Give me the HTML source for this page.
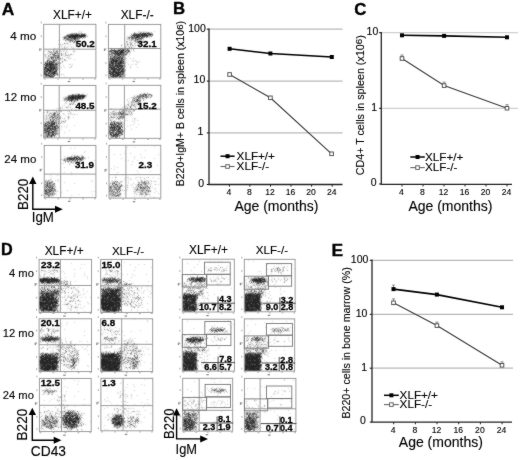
<!DOCTYPE html>
<html><head><meta charset="utf-8"><style>
html,body{margin:0;padding:0;background:#fff;}
svg{display:block;font-family:"Liberation Sans", sans-serif;}
.n{stroke:#000;stroke-width:.3px;}
text{stroke:#000;stroke-width:.12px;}
.L{stroke:#000;stroke-width:.35px;}
</style></head><body>
<svg width="520" height="460" viewBox="0 0 520 460">
<defs><filter id="st" x="0" y="0" width="1" height="1" color-interpolation-filters="sRGB">
<feTurbulence type="fractalNoise" baseFrequency="1.3" numOctaves="1" seed="3" result="n"/>
<feColorMatrix in="n" type="matrix" values="0 0 0 0 0 0 0 0 0 0 0 0 0 0 0 2.2 0 0 0 -0.6" result="na"/>
<feGaussianBlur in="SourceGraphic" stdDeviation="1.2" result="d"/>
<feComposite in="d" in2="na" operator="arithmetic" k1="0" k2="1.5" k3="-1" k4="0.16" result="df"/>
<feComponentTransfer in="df" result="th"><feFuncA type="discrete" tableValues="0 0.22 0.42 0.62 0.82 0.95"/></feComponentTransfer>
<feFlood flood-color="#181818"/>
<feComposite in2="th" operator="in" result="dots"/>
<feConvolveMatrix in="dots" order="3" kernelMatrix="1 2 1 2 16 2 1 2 1" divisor="28" edgeMode="none"/>
</filter><filter id="soft" x="0" y="0" width="520" height="460" filterUnits="userSpaceOnUse" color-interpolation-filters="sRGB"><feConvolveMatrix order="3" kernelMatrix="1 2 1 2 36 2 1 2 1" divisor="48" edgeMode="duplicate"/></filter></defs>
<g filter="url(#soft)">
<rect width="520" height="460" fill="#fff"/>
<text x="1.8" y="14.6" font-size="17.4" font-weight="bold" class="L">A</text>
<text x="53.0" y="18.9" font-size="11.9">XLF+/+</text>
<text x="120.7" y="18.9" font-size="11.9">XLF-/-</text>
<text x="36.3" y="40.4" font-size="11.7" text-anchor="end">4 mo</text>
<text x="36.3" y="100.7" font-size="11.5" text-anchor="end">12 mo</text>
<text x="36.3" y="162.6" font-size="11.5" text-anchor="end">24 mo</text>
<clipPath id="c1"><rect x="43.7" y="24.3" width="52.2" height="53.6"/></clipPath>
<g clip-path="url(#c1)"><g filter="url(#st)">
<rect x="40.7" y="21.3" width="58.2" height="59.6" fill-opacity="0"/>
<ellipse cx="77" cy="35.8" rx="11" ry="2.2" transform="rotate(-2 77 35.8)" fill-opacity="1.0"/>
<ellipse cx="72" cy="37.5" rx="10" ry="3" transform="rotate(-3 72 37.5)" fill-opacity="0.45"/>
<ellipse cx="72" cy="40" rx="12" ry="3.5" transform="rotate(-4 72 40)" fill-opacity="0.15"/>
<rect x="44" y="49.5" width="15.5" height="28" fill-opacity="0.33"/>
<ellipse cx="49" cy="70" rx="8" ry="9" fill-opacity="0.55"/>
<ellipse cx="64" cy="52" rx="19" ry="9" transform="rotate(-40 64 52)" fill-opacity="0.2"/>
<ellipse cx="62" cy="64" rx="13" ry="12" fill-opacity="0.12"/>
</g></g>
<rect x="43.7" y="24.3" width="52.2" height="53.6" fill="none" stroke="#929292" stroke-width=".9"/>
<line x1="59.4" y1="24.3" x2="59.4" y2="77.9" stroke="#929292" stroke-width=".9"/>
<line x1="43.7" y1="49.2" x2="95.9" y2="49.2" stroke="#929292" stroke-width=".9"/>
<rect x="40.7" y="21.6" width="1" height="1.8" fill="#aaa"/>
<rect x="40.7" y="35.3" width="1" height="1.8" fill="#aaa"/>
<rect x="40.7" y="48.2" width="1" height="1.8" fill="#aaa"/>
<rect x="40.7" y="62.1" width="1" height="1.8" fill="#aaa"/>
<rect x="40.7" y="74.4" width="1" height="1.8" fill="#aaa"/>
<rect x="43.9" y="78.5" width="1.8" height="1" fill="#aaa"/>
<rect x="57.0" y="78.5" width="1.8" height="1" fill="#aaa"/>
<rect x="69.0" y="78.5" width="1.8" height="1" fill="#aaa"/>
<rect x="82.1" y="78.5" width="1.8" height="1" fill="#aaa"/>
<rect x="94.1" y="78.5" width="1.8" height="1" fill="#aaa"/>
<rect x="67.7" y="80.9" width="2.5" height="1.2" fill="#888"/>
<rect x="39.2" y="48.4" width="1.3" height="2.5" fill="#888"/>
<text x="94.8" y="47.4" font-size="9.8" text-anchor="end" font-weight="bold" class="n">50.2</text>
<clipPath id="c2"><rect x="108.4" y="24.4" width="52.4" height="53.5"/></clipPath>
<g clip-path="url(#c2)"><g filter="url(#st)">
<rect x="105.4" y="21.4" width="58.4" height="59.5" fill-opacity="0"/>
<ellipse cx="143" cy="34.8" rx="11" ry="2.4" transform="rotate(-2 143 34.8)" fill-opacity="0.85"/>
<ellipse cx="136" cy="37" rx="10" ry="3" transform="rotate(-3 136 37)" fill-opacity="0.4"/>
<ellipse cx="134" cy="40" rx="13" ry="3.5" transform="rotate(-4 134 40)" fill-opacity="0.15"/>
<rect x="108.5" y="49" width="16.5" height="29" fill-opacity="0.5"/>
<ellipse cx="115" cy="68" rx="9" ry="11" fill-opacity="0.5"/>
<ellipse cx="120" cy="51.5" rx="10" ry="2.5" fill-opacity="0.4"/>
<ellipse cx="130" cy="47" rx="15" ry="6" transform="rotate(-30 130 47)" fill-opacity="0.28"/>
<ellipse cx="128" cy="60" rx="12" ry="12" fill-opacity="0.12"/>
</g></g>
<rect x="108.4" y="24.4" width="52.4" height="53.5" fill="none" stroke="#929292" stroke-width=".9"/>
<line x1="124.7" y1="24.4" x2="124.7" y2="77.9" stroke="#929292" stroke-width=".9"/>
<line x1="108.4" y1="48.5" x2="160.8" y2="48.5" stroke="#929292" stroke-width=".9"/>
<rect x="105.4" y="21.7" width="1" height="1.8" fill="#aaa"/>
<rect x="105.4" y="35.4" width="1" height="1.8" fill="#aaa"/>
<rect x="105.4" y="48.2" width="1" height="1.8" fill="#aaa"/>
<rect x="105.4" y="62.1" width="1" height="1.8" fill="#aaa"/>
<rect x="105.4" y="74.4" width="1" height="1.8" fill="#aaa"/>
<rect x="108.6" y="78.5" width="1.8" height="1" fill="#aaa"/>
<rect x="121.7" y="78.5" width="1.8" height="1" fill="#aaa"/>
<rect x="133.8" y="78.5" width="1.8" height="1" fill="#aaa"/>
<rect x="146.9" y="78.5" width="1.8" height="1" fill="#aaa"/>
<rect x="159.0" y="78.5" width="1.8" height="1" fill="#aaa"/>
<rect x="132.5" y="80.9" width="2.5" height="1.2" fill="#888"/>
<rect x="103.9" y="48.5" width="1.3" height="2.5" fill="#888"/>
<text x="156.7" y="47.1" font-size="9.8" text-anchor="end" font-weight="bold" class="n">32.1</text>
<clipPath id="c3"><rect x="43.7" y="85.4" width="52.2" height="52.5"/></clipPath>
<g clip-path="url(#c3)"><g filter="url(#st)">
<rect x="40.7" y="82.4" width="58.2" height="58.5" fill-opacity="0"/>
<ellipse cx="77" cy="96.8" rx="10.5" ry="2.2" transform="rotate(-2 77 96.8)" fill-opacity="1.0"/>
<ellipse cx="72" cy="98.5" rx="10" ry="3" transform="rotate(-3 72 98.5)" fill-opacity="0.45"/>
<ellipse cx="72" cy="101" rx="12" ry="3.5" transform="rotate(-4 72 101)" fill-opacity="0.15"/>
<rect x="44" y="110.5" width="15" height="27" fill-opacity="0.3"/>
<ellipse cx="49" cy="130" rx="8" ry="8" fill-opacity="0.5"/>
<ellipse cx="64" cy="114" rx="19" ry="9" transform="rotate(-40 64 114)" fill-opacity="0.2"/>
<ellipse cx="62" cy="126" rx="13" ry="11" fill-opacity="0.1"/>
</g></g>
<rect x="43.7" y="85.4" width="52.2" height="52.5" fill="none" stroke="#929292" stroke-width=".9"/>
<line x1="59.2" y1="85.4" x2="59.2" y2="137.9" stroke="#929292" stroke-width=".9"/>
<line x1="43.7" y1="110.3" x2="95.9" y2="110.3" stroke="#929292" stroke-width=".9"/>
<rect x="40.7" y="82.8" width="1" height="1.8" fill="#aaa"/>
<rect x="40.7" y="96.2" width="1" height="1.8" fill="#aaa"/>
<rect x="40.7" y="108.8" width="1" height="1.8" fill="#aaa"/>
<rect x="40.7" y="122.4" width="1" height="1.8" fill="#aaa"/>
<rect x="40.7" y="134.5" width="1" height="1.8" fill="#aaa"/>
<rect x="43.9" y="138.5" width="1.8" height="1" fill="#aaa"/>
<rect x="57.0" y="138.5" width="1.8" height="1" fill="#aaa"/>
<rect x="69.0" y="138.5" width="1.8" height="1" fill="#aaa"/>
<rect x="82.1" y="138.5" width="1.8" height="1" fill="#aaa"/>
<rect x="94.1" y="138.5" width="1.8" height="1" fill="#aaa"/>
<rect x="67.7" y="140.9" width="2.5" height="1.2" fill="#888"/>
<rect x="39.2" y="109.0" width="1.3" height="2.5" fill="#888"/>
<text x="94.5" y="109.3" font-size="9.8" text-anchor="end" font-weight="bold" class="n">48.5</text>
<clipPath id="c4"><rect x="108.7" y="85.3" width="52.1" height="53.0"/></clipPath>
<g clip-path="url(#c4)"><g filter="url(#st)">
<rect x="105.7" y="82.3" width="58.1" height="59.0" fill-opacity="0"/>
<ellipse cx="145" cy="95.8" rx="8.5" ry="2.2" transform="rotate(-2 145 95.8)" fill-opacity="0.55"/>
<ellipse cx="139" cy="97.5" rx="9" ry="3" transform="rotate(-3 139 97.5)" fill-opacity="0.3"/>
<ellipse cx="137" cy="100" rx="12" ry="3.5" transform="rotate(-4 137 100)" fill-opacity="0.12"/>
<rect x="109" y="109.5" width="15" height="28.5" fill-opacity="0.32"/>
<ellipse cx="115" cy="130" rx="8" ry="8" fill-opacity="0.5"/>
<ellipse cx="130" cy="108" rx="14" ry="6" transform="rotate(-40 130 108)" fill-opacity="0.35"/>
<ellipse cx="128" cy="122" rx="11" ry="11" fill-opacity="0.1"/>
</g></g>
<rect x="108.7" y="85.3" width="52.1" height="53.0" fill="none" stroke="#929292" stroke-width=".9"/>
<line x1="124.4" y1="85.3" x2="124.4" y2="138.3" stroke="#929292" stroke-width=".9"/>
<line x1="108.7" y1="109.2" x2="160.8" y2="109.2" stroke="#929292" stroke-width=".9"/>
<rect x="105.7" y="82.6" width="1" height="1.8" fill="#aaa"/>
<rect x="105.7" y="96.2" width="1" height="1.8" fill="#aaa"/>
<rect x="105.7" y="108.9" width="1" height="1.8" fill="#aaa"/>
<rect x="105.7" y="122.7" width="1" height="1.8" fill="#aaa"/>
<rect x="105.7" y="134.8" width="1" height="1.8" fill="#aaa"/>
<rect x="108.9" y="138.9" width="1.8" height="1" fill="#aaa"/>
<rect x="122.0" y="138.9" width="1.8" height="1" fill="#aaa"/>
<rect x="133.9" y="138.9" width="1.8" height="1" fill="#aaa"/>
<rect x="147.0" y="138.9" width="1.8" height="1" fill="#aaa"/>
<rect x="159.0" y="138.9" width="1.8" height="1" fill="#aaa"/>
<rect x="132.7" y="141.3" width="2.5" height="1.2" fill="#888"/>
<rect x="104.2" y="109.2" width="1.3" height="2.5" fill="#888"/>
<text x="156.7" y="109.0" font-size="9.8" text-anchor="end" font-weight="bold" class="n">15.2</text>
<clipPath id="c5"><rect x="44.2" y="145.4" width="51.7" height="52.3"/></clipPath>
<g clip-path="url(#c5)"><g filter="url(#st)">
<rect x="41.2" y="142.4" width="57.7" height="58.3" fill-opacity="0"/>
<ellipse cx="75" cy="158.5" rx="11" ry="2.6" transform="rotate(-3 75 158.5)" fill-opacity="0.62"/>
<ellipse cx="72" cy="160.5" rx="13" ry="4" transform="rotate(-3 72 160.5)" fill-opacity="0.25"/>
<rect x="44.5" y="174.5" width="16" height="23" fill-opacity="0.13"/>
<ellipse cx="49" cy="189" rx="7" ry="9" fill-opacity="0.5"/>
<rect x="60" y="146" width="35" height="51" fill-opacity="0.02"/>
</g></g>
<rect x="44.2" y="145.4" width="51.7" height="52.3" fill="none" stroke="#929292" stroke-width=".9"/>
<line x1="60.7" y1="145.4" x2="60.7" y2="197.7" stroke="#929292" stroke-width=".9"/>
<line x1="44.2" y1="174.1" x2="95.9" y2="174.1" stroke="#929292" stroke-width=".9"/>
<rect x="41.2" y="142.8" width="1" height="1.8" fill="#aaa"/>
<rect x="41.2" y="156.1" width="1" height="1.8" fill="#aaa"/>
<rect x="41.2" y="168.7" width="1" height="1.8" fill="#aaa"/>
<rect x="41.2" y="182.3" width="1" height="1.8" fill="#aaa"/>
<rect x="41.2" y="194.3" width="1" height="1.8" fill="#aaa"/>
<rect x="44.4" y="198.3" width="1.8" height="1" fill="#aaa"/>
<rect x="57.4" y="198.3" width="1.8" height="1" fill="#aaa"/>
<rect x="69.3" y="198.3" width="1.8" height="1" fill="#aaa"/>
<rect x="82.2" y="198.3" width="1.8" height="1" fill="#aaa"/>
<rect x="94.1" y="198.3" width="1.8" height="1" fill="#aaa"/>
<rect x="68.0" y="200.7" width="2.5" height="1.2" fill="#888"/>
<rect x="39.7" y="168.9" width="1.3" height="2.5" fill="#888"/>
<text x="94.0" y="167.8" font-size="9.8" text-anchor="end" font-weight="bold" class="n">31.9</text>
<clipPath id="c6"><rect x="109" y="145.3" width="51.8" height="52.8"/></clipPath>
<g clip-path="url(#c6)"><g filter="url(#st)">
<rect x="106" y="142.3" width="57.8" height="58.8" fill-opacity="0"/>
<ellipse cx="115" cy="189" rx="8" ry="9" fill-opacity="0.4"/>
<ellipse cx="143" cy="188" rx="8" ry="8" fill-opacity="0.36"/>
<rect x="109.5" y="175" width="50" height="22.5" fill-opacity="0.13"/>
<rect x="109.5" y="146" width="50" height="28" fill-opacity="0.03"/>
</g></g>
<rect x="109" y="145.3" width="51.8" height="52.8" fill="none" stroke="#929292" stroke-width=".9"/>
<line x1="125.9" y1="145.3" x2="125.9" y2="198.1" stroke="#929292" stroke-width=".9"/>
<line x1="109" y1="174.6" x2="160.8" y2="174.6" stroke="#929292" stroke-width=".9"/>
<rect x="106.0" y="142.7" width="1" height="1.8" fill="#aaa"/>
<rect x="106.0" y="156.1" width="1" height="1.8" fill="#aaa"/>
<rect x="106.0" y="168.8" width="1" height="1.8" fill="#aaa"/>
<rect x="106.0" y="182.5" width="1" height="1.8" fill="#aaa"/>
<rect x="106.0" y="194.7" width="1" height="1.8" fill="#aaa"/>
<rect x="109.2" y="198.7" width="1.8" height="1" fill="#aaa"/>
<rect x="122.2" y="198.7" width="1.8" height="1" fill="#aaa"/>
<rect x="134.1" y="198.7" width="1.8" height="1" fill="#aaa"/>
<rect x="147.1" y="198.7" width="1.8" height="1" fill="#aaa"/>
<rect x="159.0" y="198.7" width="1.8" height="1" fill="#aaa"/>
<rect x="132.8" y="201.1" width="2.5" height="1.2" fill="#888"/>
<rect x="104.5" y="169.1" width="1.3" height="2.5" fill="#888"/>
<text x="152.2" y="168.0" font-size="9.8" text-anchor="end" font-weight="bold" class="n">2.3</text>
<path d="M32.8 182.5 V209.2 H56.8" fill="none" stroke="#000" stroke-width="1.4"/>
<path d="M32.8 176.5 L29.099999999999998 183.9 L36.5 183.9Z" fill="#000"/>
<path d="M62.8 209.2 L55.0 205.7 L55.0 212.7Z" fill="#000"/>
<text x="27.6" y="209.9" font-size="14.4" textLength="31.2" lengthAdjust="spacingAndGlyphs" transform="rotate(-90 27.6 209.9)">B220</text>
<text x="31.7" y="221.6" font-size="14.2" textLength="22.2" lengthAdjust="spacingAndGlyphs">IgM</text>
<text x="0.9" y="255.4" font-size="16.2" font-weight="bold" class="L">D</text>
<text x="44.7" y="255.2" font-size="11.9">XLF+/+</text>
<text x="111.9" y="255.2" font-size="11.6">XLF-/-</text>
<text x="189.0" y="254.3" font-size="11.9">XLF+/+</text>
<text x="255.8" y="254.3" font-size="11.6">XLF-/-</text>
<text x="33.9" y="277.2" font-size="11.2" text-anchor="end">4 mo</text>
<text x="33.9" y="337.4" font-size="11.2" text-anchor="end">12 mo</text>
<text x="33.9" y="398.6" font-size="11.2" text-anchor="end">24 mo</text>
<clipPath id="c7"><rect x="39.1" y="259.4" width="52.5" height="53.0"/></clipPath>
<g clip-path="url(#c7)"><g filter="url(#st)">
<rect x="36.1" y="256.4" width="58.5" height="59.0" fill-opacity="0"/>
<rect x="39" y="259" width="53" height="54" fill-opacity="0.025"/>
<ellipse cx="49" cy="271" rx="10" ry="2" fill-opacity="0.2"/>
<rect x="39.5" y="268" width="21" height="17" fill-opacity="0.15"/>
<ellipse cx="49" cy="280.6" rx="11.5" ry="2.8" fill-opacity="1.0"/>
<ellipse cx="64" cy="283" rx="9" ry="3" fill-opacity="0.3"/>
<rect x="39.5" y="285" width="21" height="8" fill-opacity="0.4"/>
<rect x="39" y="291" width="20" height="21" fill-opacity="0.55"/>
<ellipse cx="47" cy="303" rx="10" ry="9" fill-opacity="0.7"/>
<ellipse cx="70" cy="297" rx="11" ry="14" transform="rotate(-35 70 297)" fill-opacity="0.2"/>
<rect x="60.5" y="286" width="31" height="26" fill-opacity="0.05"/>
</g></g>
<rect x="39.1" y="259.4" width="52.5" height="53.0" fill="none" stroke="#929292" stroke-width=".9"/>
<line x1="60.4" y1="259.4" x2="60.4" y2="312.4" stroke="#929292" stroke-width=".9"/>
<line x1="39.1" y1="285.5" x2="91.6" y2="285.5" stroke="#929292" stroke-width=".9"/>
<rect x="36.1" y="256.7" width="1" height="1.8" fill="#aaa"/>
<rect x="36.1" y="270.3" width="1" height="1.8" fill="#aaa"/>
<rect x="36.1" y="283.0" width="1" height="1.8" fill="#aaa"/>
<rect x="36.1" y="296.8" width="1" height="1.8" fill="#aaa"/>
<rect x="36.1" y="308.9" width="1" height="1.8" fill="#aaa"/>
<rect x="39.4" y="313.0" width="1.8" height="1" fill="#aaa"/>
<rect x="52.5" y="313.0" width="1.8" height="1" fill="#aaa"/>
<rect x="64.5" y="313.0" width="1.8" height="1" fill="#aaa"/>
<rect x="77.7" y="313.0" width="1.8" height="1" fill="#aaa"/>
<rect x="89.7" y="313.0" width="1.8" height="1" fill="#aaa"/>
<rect x="63.2" y="315.4" width="2.5" height="1.2" fill="#888"/>
<rect x="34.6" y="283.2" width="1.3" height="2.5" fill="#888"/>
<text x="41.0" y="267.6" font-size="9.8" font-weight="bold" class="n">23.2</text>
<clipPath id="c8"><rect x="100.7" y="259.4" width="52.0" height="53.0"/></clipPath>
<g clip-path="url(#c8)"><g filter="url(#st)">
<rect x="97.7" y="256.4" width="58.0" height="59.0" fill-opacity="0"/>
<rect x="100" y="259" width="53" height="54" fill-opacity="0.025"/>
<ellipse cx="110" cy="271" rx="9" ry="2" fill-opacity="0.18"/>
<rect x="101" y="268" width="20.5" height="17" fill-opacity="0.15"/>
<ellipse cx="111" cy="280.6" rx="10.5" ry="2.3" fill-opacity="0.78"/>
<ellipse cx="125" cy="283" rx="9" ry="3" fill-opacity="0.28"/>
<rect x="101" y="285" width="20.5" height="6" fill-opacity="0.4"/>
<rect x="100.5" y="289" width="21" height="23" fill-opacity="0.65"/>
<ellipse cx="110" cy="302" rx="11" ry="10" fill-opacity="0.8"/>
<ellipse cx="131" cy="296" rx="11" ry="14" transform="rotate(-30 131 296)" fill-opacity="0.22"/>
<rect x="121.5" y="286" width="31" height="26" fill-opacity="0.06"/>
</g></g>
<rect x="100.7" y="259.4" width="52.0" height="53.0" fill="none" stroke="#929292" stroke-width=".9"/>
<line x1="121.5" y1="259.4" x2="121.5" y2="312.4" stroke="#929292" stroke-width=".9"/>
<line x1="100.7" y1="285.8" x2="152.7" y2="285.8" stroke="#929292" stroke-width=".9"/>
<rect x="97.7" y="256.7" width="1" height="1.8" fill="#aaa"/>
<rect x="97.7" y="270.3" width="1" height="1.8" fill="#aaa"/>
<rect x="97.7" y="283.0" width="1" height="1.8" fill="#aaa"/>
<rect x="97.7" y="296.8" width="1" height="1.8" fill="#aaa"/>
<rect x="97.7" y="308.9" width="1" height="1.8" fill="#aaa"/>
<rect x="100.9" y="313.0" width="1.8" height="1" fill="#aaa"/>
<rect x="113.9" y="313.0" width="1.8" height="1" fill="#aaa"/>
<rect x="125.9" y="313.0" width="1.8" height="1" fill="#aaa"/>
<rect x="138.9" y="313.0" width="1.8" height="1" fill="#aaa"/>
<rect x="150.9" y="313.0" width="1.8" height="1" fill="#aaa"/>
<rect x="124.6" y="315.4" width="2.5" height="1.2" fill="#888"/>
<rect x="96.2" y="283.2" width="1.3" height="2.5" fill="#888"/>
<text x="101.4" y="268.0" font-size="9.8" font-weight="bold" class="n">15.0</text>
<clipPath id="c9"><rect x="39.1" y="318.8" width="52.5" height="52.8"/></clipPath>
<g clip-path="url(#c9)"><g filter="url(#st)">
<rect x="36.1" y="315.8" width="58.5" height="58.8" fill-opacity="0"/>
<rect x="39" y="318" width="53" height="54" fill-opacity="0.025"/>
<ellipse cx="49" cy="330" rx="10" ry="2" fill-opacity="0.25"/>
<rect x="39.5" y="328" width="21" height="16" fill-opacity="0.15"/>
<ellipse cx="50" cy="338.8" rx="10" ry="2.6" fill-opacity="0.8"/>
<rect x="39.5" y="344" width="21" height="8" fill-opacity="0.15"/>
<rect x="39" y="353" width="20" height="19" fill-opacity="0.6"/>
<ellipse cx="48" cy="363" rx="10" ry="8.5" fill-opacity="0.75"/>
<ellipse cx="68" cy="354" rx="11" ry="16" transform="rotate(-25 68 354)" fill-opacity="0.26"/>
<ellipse cx="73.5" cy="363" rx="2.2" ry="7" fill-opacity="0.4"/>
<rect x="60.5" y="345" width="30" height="26" fill-opacity="0.05"/>
</g></g>
<rect x="39.1" y="318.8" width="52.5" height="52.8" fill="none" stroke="#929292" stroke-width=".9"/>
<line x1="60.4" y1="318.8" x2="60.4" y2="371.6" stroke="#929292" stroke-width=".9"/>
<line x1="39.1" y1="344.7" x2="91.6" y2="344.7" stroke="#929292" stroke-width=".9"/>
<rect x="36.1" y="316.2" width="1" height="1.8" fill="#aaa"/>
<rect x="36.1" y="329.6" width="1" height="1.8" fill="#aaa"/>
<rect x="36.1" y="342.3" width="1" height="1.8" fill="#aaa"/>
<rect x="36.1" y="356.0" width="1" height="1.8" fill="#aaa"/>
<rect x="36.1" y="368.2" width="1" height="1.8" fill="#aaa"/>
<rect x="39.4" y="372.2" width="1.8" height="1" fill="#aaa"/>
<rect x="52.5" y="372.2" width="1.8" height="1" fill="#aaa"/>
<rect x="64.5" y="372.2" width="1.8" height="1" fill="#aaa"/>
<rect x="77.7" y="372.2" width="1.8" height="1" fill="#aaa"/>
<rect x="89.7" y="372.2" width="1.8" height="1" fill="#aaa"/>
<rect x="63.2" y="374.6" width="2.5" height="1.2" fill="#888"/>
<rect x="34.6" y="342.6" width="1.3" height="2.5" fill="#888"/>
<text x="40.7" y="326.0" font-size="9.8" font-weight="bold" class="n">20.1</text>
<clipPath id="c10"><rect x="100.7" y="318.8" width="52.0" height="52.8"/></clipPath>
<g clip-path="url(#c10)"><g filter="url(#st)">
<rect x="97.7" y="315.8" width="58.0" height="58.8" fill-opacity="0"/>
<rect x="100" y="318" width="53" height="54" fill-opacity="0.025"/>
<ellipse cx="110" cy="330" rx="9" ry="2" fill-opacity="0.2"/>
<rect x="101" y="328" width="20.5" height="16" fill-opacity="0.14"/>
<ellipse cx="111" cy="339" rx="7" ry="2" fill-opacity="0.38"/>
<rect x="101" y="344" width="20.5" height="9" fill-opacity="0.15"/>
<rect x="100.5" y="353" width="20" height="19" fill-opacity="0.8"/>
<ellipse cx="110" cy="363" rx="11" ry="8.5" fill-opacity="0.8"/>
<ellipse cx="130" cy="355" rx="11" ry="16" transform="rotate(-10 130 355)" fill-opacity="0.28"/>
<ellipse cx="135" cy="363" rx="2.2" ry="7" fill-opacity="0.4"/>
<rect x="121.5" y="345" width="31" height="26" fill-opacity="0.05"/>
</g></g>
<rect x="100.7" y="318.8" width="52.0" height="52.8" fill="none" stroke="#929292" stroke-width=".9"/>
<line x1="121.7" y1="318.8" x2="121.7" y2="371.6" stroke="#929292" stroke-width=".9"/>
<line x1="100.7" y1="344.3" x2="152.7" y2="344.3" stroke="#929292" stroke-width=".9"/>
<rect x="97.7" y="316.2" width="1" height="1.8" fill="#aaa"/>
<rect x="97.7" y="329.6" width="1" height="1.8" fill="#aaa"/>
<rect x="97.7" y="342.3" width="1" height="1.8" fill="#aaa"/>
<rect x="97.7" y="356.0" width="1" height="1.8" fill="#aaa"/>
<rect x="97.7" y="368.2" width="1" height="1.8" fill="#aaa"/>
<rect x="100.9" y="372.2" width="1.8" height="1" fill="#aaa"/>
<rect x="113.9" y="372.2" width="1.8" height="1" fill="#aaa"/>
<rect x="125.9" y="372.2" width="1.8" height="1" fill="#aaa"/>
<rect x="138.9" y="372.2" width="1.8" height="1" fill="#aaa"/>
<rect x="150.9" y="372.2" width="1.8" height="1" fill="#aaa"/>
<rect x="124.6" y="374.6" width="2.5" height="1.2" fill="#888"/>
<rect x="96.2" y="342.6" width="1.3" height="2.5" fill="#888"/>
<text x="101.5" y="326.1" font-size="9.8" font-weight="bold" class="n">6.8</text>
<clipPath id="c11"><rect x="39.4" y="378.4" width="51.8" height="53.2"/></clipPath>
<g clip-path="url(#c11)"><g filter="url(#st)">
<rect x="36.4" y="375.4" width="57.8" height="59.2" fill-opacity="0"/>
<rect x="39" y="378" width="53" height="54" fill-opacity="0.025"/>
<rect x="39.5" y="388" width="22" height="17" fill-opacity="0.08"/>
<ellipse cx="49" cy="391.5" rx="8" ry="2.2" fill-opacity="0.5"/>
<ellipse cx="63" cy="403" rx="5" ry="12" fill-opacity="0.2"/>
<rect x="39.5" y="410" width="45" height="21" fill-opacity="0.22"/>
<ellipse cx="50" cy="422" rx="9" ry="7" fill-opacity="0.35"/>
<ellipse cx="71" cy="420" rx="9" ry="9" fill-opacity="0.65"/>
</g></g>
<rect x="39.4" y="378.4" width="51.8" height="53.2" fill="none" stroke="#929292" stroke-width=".9"/>
<line x1="61.5" y1="378.4" x2="61.5" y2="431.6" stroke="#929292" stroke-width=".9"/>
<line x1="39.4" y1="405.3" x2="91.2" y2="405.3" stroke="#929292" stroke-width=".9"/>
<rect x="36.4" y="375.7" width="1" height="1.8" fill="#aaa"/>
<rect x="36.4" y="389.3" width="1" height="1.8" fill="#aaa"/>
<rect x="36.4" y="402.1" width="1" height="1.8" fill="#aaa"/>
<rect x="36.4" y="415.9" width="1" height="1.8" fill="#aaa"/>
<rect x="36.4" y="428.1" width="1" height="1.8" fill="#aaa"/>
<rect x="39.6" y="432.2" width="1.8" height="1" fill="#aaa"/>
<rect x="52.6" y="432.2" width="1.8" height="1" fill="#aaa"/>
<rect x="64.5" y="432.2" width="1.8" height="1" fill="#aaa"/>
<rect x="77.5" y="432.2" width="1.8" height="1" fill="#aaa"/>
<rect x="89.4" y="432.2" width="1.8" height="1" fill="#aaa"/>
<rect x="63.2" y="434.6" width="2.5" height="1.2" fill="#888"/>
<rect x="34.9" y="402.3" width="1.3" height="2.5" fill="#888"/>
<text x="40.8" y="385.7" font-size="9.8" font-weight="bold" class="n">12.5</text>
<clipPath id="c12"><rect x="100.9" y="378.3" width="51.9" height="52.5"/></clipPath>
<g clip-path="url(#c12)"><g filter="url(#st)">
<rect x="97.9" y="375.3" width="57.9" height="58.5" fill-opacity="0"/>
<rect x="100" y="378" width="53" height="54" fill-opacity="0.025"/>
<ellipse cx="118" cy="421" rx="6.5" ry="6.5" fill-opacity="0.72"/>
<ellipse cx="134" cy="422" rx="6" ry="6" fill-opacity="0.25"/>
<ellipse cx="124" cy="418" rx="18" ry="11" fill-opacity="0.17"/>
<ellipse cx="124" cy="400" rx="5" ry="12" fill-opacity="0.13"/>
<ellipse cx="126" cy="395" rx="9" ry="5" fill-opacity="0.08"/>
</g></g>
<rect x="100.9" y="378.3" width="51.9" height="52.5" fill="none" stroke="#929292" stroke-width=".9"/>
<line x1="123.1" y1="378.3" x2="123.1" y2="430.8" stroke="#929292" stroke-width=".9"/>
<line x1="100.9" y1="405.6" x2="152.8" y2="405.6" stroke="#929292" stroke-width=".9"/>
<rect x="97.9" y="375.7" width="1" height="1.8" fill="#aaa"/>
<rect x="97.9" y="389.1" width="1" height="1.8" fill="#aaa"/>
<rect x="97.9" y="401.6" width="1" height="1.8" fill="#aaa"/>
<rect x="97.9" y="415.3" width="1" height="1.8" fill="#aaa"/>
<rect x="97.9" y="427.4" width="1" height="1.8" fill="#aaa"/>
<rect x="101.1" y="431.4" width="1.8" height="1" fill="#aaa"/>
<rect x="114.1" y="431.4" width="1.8" height="1" fill="#aaa"/>
<rect x="126.1" y="431.4" width="1.8" height="1" fill="#aaa"/>
<rect x="139.0" y="431.4" width="1.8" height="1" fill="#aaa"/>
<rect x="151.0" y="431.4" width="1.8" height="1" fill="#aaa"/>
<rect x="124.8" y="433.8" width="2.5" height="1.2" fill="#888"/>
<rect x="96.4" y="401.9" width="1.3" height="2.5" fill="#888"/>
<text x="102.0" y="385.7" font-size="9.8" font-weight="bold" class="n">1.3</text>
<clipPath id="c13"><rect x="182.3" y="259.2" width="52.0" height="52.8"/></clipPath>
<g clip-path="url(#c13)"><g filter="url(#st)">
<rect x="179.3" y="256.2" width="58.0" height="58.8" fill-opacity="0"/>
<rect x="182" y="259" width="53" height="54" fill-opacity="0.03"/>
<ellipse cx="217" cy="269.5" rx="11" ry="2.5" fill-opacity="0.35"/>
<ellipse cx="197" cy="279.5" rx="10" ry="2.4" fill-opacity="0.75"/>
<ellipse cx="200" cy="279.5" rx="5" ry="2" fill-opacity="0.6"/>
<rect x="182.5" y="282" width="24" height="5" fill-opacity="0.3"/>
<ellipse cx="218" cy="279" rx="11" ry="3" fill-opacity="0.22"/>
<rect x="182.5" y="287" width="22" height="9" fill-opacity="0.3"/>
<rect x="182" y="294" width="15" height="18" fill-opacity="0.8"/>
<ellipse cx="190" cy="304" rx="6" ry="8" fill-opacity="0.3"/>
<rect x="197" y="288" width="12" height="24" fill-opacity="0.12"/>
</g></g>
<rect x="182.3" y="259.2" width="52.0" height="52.8" fill="none" stroke="#929292" stroke-width=".9"/>
<rect x="179.3" y="256.6" width="1" height="1.8" fill="#aaa"/>
<rect x="179.3" y="270.0" width="1" height="1.8" fill="#aaa"/>
<rect x="179.3" y="282.7" width="1" height="1.8" fill="#aaa"/>
<rect x="179.3" y="296.4" width="1" height="1.8" fill="#aaa"/>
<rect x="179.3" y="308.6" width="1" height="1.8" fill="#aaa"/>
<rect x="182.5" y="312.6" width="1.8" height="1" fill="#aaa"/>
<rect x="195.5" y="312.6" width="1.8" height="1" fill="#aaa"/>
<rect x="207.5" y="312.6" width="1.8" height="1" fill="#aaa"/>
<rect x="220.5" y="312.6" width="1.8" height="1" fill="#aaa"/>
<rect x="232.5" y="312.6" width="1.8" height="1" fill="#aaa"/>
<rect x="206.2" y="315.0" width="2.5" height="1.2" fill="#888"/>
<rect x="177.8" y="283.0" width="1.3" height="2.5" fill="#888"/>
<rect x="204.5" y="262.2" width="25.7" height="12.1" fill="none" stroke="#7a7a7a" stroke-width=".9"/>
<rect x="182.3" y="274.5" width="24.4" height="12.5" fill="none" stroke="#7a7a7a" stroke-width=".9"/>
<rect x="206.7" y="274.3" width="23.5" height="10.7" fill="none" stroke="#7a7a7a" stroke-width=".9"/>
<line x1="218.0" y1="296.5" x2="218.0" y2="312.0" stroke="#222" stroke-width=".8"/>
<line x1="199.6" y1="303.2" x2="234.8" y2="303.2" stroke="#222" stroke-width=".8"/>
<text x="231.6" y="302.0" font-size="9.1" text-anchor="end" font-weight="bold" class="n">4.3</text>
<text x="216.6" y="309.6" font-size="9.1" text-anchor="end" font-weight="bold" class="n">10.7</text>
<text x="231.6" y="309.6" font-size="9.1" text-anchor="end" font-weight="bold" class="n">8.2</text>
<clipPath id="c14"><rect x="244.3" y="259.3" width="50.8" height="52.5"/></clipPath>
<g clip-path="url(#c14)"><g filter="url(#st)">
<rect x="241.3" y="256.3" width="56.8" height="58.5" fill-opacity="0"/>
<rect x="244" y="259" width="52" height="54" fill-opacity="0.03"/>
<ellipse cx="279" cy="270" rx="11" ry="3" fill-opacity="0.35"/>
<ellipse cx="259" cy="280" rx="8" ry="2.6" fill-opacity="0.9"/>
<rect x="244.5" y="278" width="24" height="11" fill-opacity="0.3"/>
<ellipse cx="280" cy="280" rx="11" ry="3" fill-opacity="0.2"/>
<rect x="244.5" y="289" width="22" height="6" fill-opacity="0.4"/>
<rect x="244" y="294" width="17" height="18" fill-opacity="0.9"/>
<ellipse cx="252" cy="304" rx="7" ry="8" fill-opacity="0.3"/>
<rect x="260" y="289" width="10" height="23" fill-opacity="0.12"/>
</g></g>
<rect x="244.3" y="259.3" width="50.8" height="52.5" fill="none" stroke="#929292" stroke-width=".9"/>
<rect x="241.3" y="256.7" width="1" height="1.8" fill="#aaa"/>
<rect x="241.3" y="270.1" width="1" height="1.8" fill="#aaa"/>
<rect x="241.3" y="282.6" width="1" height="1.8" fill="#aaa"/>
<rect x="241.3" y="296.3" width="1" height="1.8" fill="#aaa"/>
<rect x="241.3" y="308.4" width="1" height="1.8" fill="#aaa"/>
<rect x="244.5" y="312.4" width="1.8" height="1" fill="#aaa"/>
<rect x="257.2" y="312.4" width="1.8" height="1" fill="#aaa"/>
<rect x="268.9" y="312.4" width="1.8" height="1" fill="#aaa"/>
<rect x="281.6" y="312.4" width="1.8" height="1" fill="#aaa"/>
<rect x="293.3" y="312.4" width="1.8" height="1" fill="#aaa"/>
<rect x="267.7" y="314.8" width="2.5" height="1.2" fill="#888"/>
<rect x="239.8" y="282.9" width="1.3" height="2.5" fill="#888"/>
<rect x="266.4" y="263.6" width="25.2" height="12.2" fill="none" stroke="#7a7a7a" stroke-width=".9"/>
<rect x="244.3" y="276.2" width="24.1" height="13.0" fill="none" stroke="#7a7a7a" stroke-width=".9"/>
<rect x="268.4" y="275.8" width="23.2" height="10.4" fill="none" stroke="#7a7a7a" stroke-width=".9"/>
<line x1="279.9" y1="297.5" x2="279.9" y2="311.8" stroke="#222" stroke-width=".8"/>
<line x1="262.5" y1="303.2" x2="295.6" y2="303.2" stroke="#222" stroke-width=".8"/>
<text x="293.3" y="302.7" font-size="9.1" text-anchor="end" font-weight="bold" class="n">3.2</text>
<text x="278.3" y="310.1" font-size="9.1" text-anchor="end" font-weight="bold" class="n">9.0</text>
<text x="293.3" y="310.1" font-size="9.1" text-anchor="end" font-weight="bold" class="n">2.8</text>
<clipPath id="c15"><rect x="182.3" y="319.2" width="52.1" height="51.9"/></clipPath>
<g clip-path="url(#c15)"><g filter="url(#st)">
<rect x="179.3" y="316.2" width="58.1" height="57.9" fill-opacity="0"/>
<rect x="182" y="319" width="53" height="53" fill-opacity="0.03"/>
<ellipse cx="217" cy="330" rx="10" ry="2.2" fill-opacity="0.6"/>
<ellipse cx="195" cy="340" rx="10" ry="2.4" fill-opacity="0.75"/>
<rect x="182.5" y="335" width="24" height="12" fill-opacity="0.25"/>
<ellipse cx="218" cy="339" rx="10" ry="3" fill-opacity="0.25"/>
<rect x="182.5" y="347" width="24" height="6" fill-opacity="0.3"/>
<rect x="182" y="352" width="15" height="20" fill-opacity="0.85"/>
<ellipse cx="190" cy="362" rx="6" ry="8" fill-opacity="0.3"/>
<rect x="197" y="347" width="12" height="24" fill-opacity="0.12"/>
</g></g>
<rect x="182.3" y="319.2" width="52.1" height="51.9" fill="none" stroke="#929292" stroke-width=".9"/>
<rect x="179.3" y="316.6" width="1" height="1.8" fill="#aaa"/>
<rect x="179.3" y="329.8" width="1" height="1.8" fill="#aaa"/>
<rect x="179.3" y="342.3" width="1" height="1.8" fill="#aaa"/>
<rect x="179.3" y="355.8" width="1" height="1.8" fill="#aaa"/>
<rect x="179.3" y="367.7" width="1" height="1.8" fill="#aaa"/>
<rect x="182.5" y="371.7" width="1.8" height="1" fill="#aaa"/>
<rect x="195.6" y="371.7" width="1.8" height="1" fill="#aaa"/>
<rect x="207.6" y="371.7" width="1.8" height="1" fill="#aaa"/>
<rect x="220.6" y="371.7" width="1.8" height="1" fill="#aaa"/>
<rect x="232.6" y="371.7" width="1.8" height="1" fill="#aaa"/>
<rect x="206.3" y="374.1" width="2.5" height="1.2" fill="#888"/>
<rect x="177.8" y="342.6" width="1.3" height="2.5" fill="#888"/>
<rect x="204.8" y="321.5" width="26.1" height="12.8" fill="none" stroke="#7a7a7a" stroke-width=".9"/>
<rect x="182.3" y="334.6" width="24.1" height="12.7" fill="none" stroke="#7a7a7a" stroke-width=".9"/>
<rect x="206.4" y="334.3" width="24.5" height="11.3" fill="none" stroke="#7a7a7a" stroke-width=".9"/>
<line x1="218.1" y1="356.5" x2="218.1" y2="371.1" stroke="#222" stroke-width=".8"/>
<line x1="201.2" y1="362.6" x2="234.9" y2="362.6" stroke="#222" stroke-width=".8"/>
<text x="231.9" y="362.2" font-size="9.1" text-anchor="end" font-weight="bold" class="n">7.8</text>
<text x="216.9" y="369.8" font-size="9.1" text-anchor="end" font-weight="bold" class="n">6.6</text>
<text x="231.9" y="369.8" font-size="9.1" text-anchor="end" font-weight="bold" class="n">5.7</text>
<clipPath id="c16"><rect x="244.3" y="318.9" width="50.4" height="52.2"/></clipPath>
<g clip-path="url(#c16)"><g filter="url(#st)">
<rect x="241.3" y="315.9" width="56.4" height="58.2" fill-opacity="0"/>
<rect x="244" y="318" width="52" height="54" fill-opacity="0.03"/>
<ellipse cx="280" cy="330" rx="11" ry="2.6" fill-opacity="0.45"/>
<ellipse cx="258" cy="339.5" rx="7" ry="2.2" fill-opacity="0.5"/>
<rect x="244.5" y="336" width="24" height="12" fill-opacity="0.25"/>
<ellipse cx="280" cy="340" rx="10" ry="3" fill-opacity="0.12"/>
<rect x="244.5" y="348" width="22" height="7" fill-opacity="0.4"/>
<rect x="244" y="354" width="17" height="18" fill-opacity="0.95"/>
<ellipse cx="252" cy="363" rx="7" ry="8" fill-opacity="0.3"/>
<rect x="260" y="348" width="10" height="23" fill-opacity="0.12"/>
</g></g>
<rect x="244.3" y="318.9" width="50.4" height="52.2" fill="none" stroke="#929292" stroke-width=".9"/>
<rect x="241.3" y="316.3" width="1" height="1.8" fill="#aaa"/>
<rect x="241.3" y="329.6" width="1" height="1.8" fill="#aaa"/>
<rect x="241.3" y="342.1" width="1" height="1.8" fill="#aaa"/>
<rect x="241.3" y="355.7" width="1" height="1.8" fill="#aaa"/>
<rect x="241.3" y="367.7" width="1" height="1.8" fill="#aaa"/>
<rect x="244.5" y="371.7" width="1.8" height="1" fill="#aaa"/>
<rect x="257.1" y="371.7" width="1.8" height="1" fill="#aaa"/>
<rect x="268.7" y="371.7" width="1.8" height="1" fill="#aaa"/>
<rect x="281.3" y="371.7" width="1.8" height="1" fill="#aaa"/>
<rect x="292.9" y="371.7" width="1.8" height="1" fill="#aaa"/>
<rect x="267.5" y="374.1" width="2.5" height="1.2" fill="#888"/>
<rect x="239.8" y="342.4" width="1.3" height="2.5" fill="#888"/>
<rect x="266.4" y="323.5" width="26.1" height="11.7" fill="none" stroke="#7a7a7a" stroke-width=".9"/>
<rect x="244.3" y="335.9" width="24.3" height="12.3" fill="none" stroke="#7a7a7a" stroke-width=".9"/>
<rect x="268.6" y="335.2" width="23.9" height="11.1" fill="none" stroke="#7a7a7a" stroke-width=".9"/>
<line x1="279.2" y1="357.0" x2="279.2" y2="371.1" stroke="#222" stroke-width=".8"/>
<line x1="261.9" y1="363.0" x2="295.2" y2="363.0" stroke="#222" stroke-width=".8"/>
<text x="293.0" y="362.6" font-size="9.1" text-anchor="end" font-weight="bold" class="n">2.8</text>
<text x="277.6" y="370.0" font-size="9.1" text-anchor="end" font-weight="bold" class="n">3.2</text>
<text x="293.0" y="370.0" font-size="9.1" text-anchor="end" font-weight="bold" class="n">0.8</text>
<clipPath id="c17"><rect x="182.7" y="378.3" width="50.0" height="52.8"/></clipPath>
<g clip-path="url(#c17)"><g filter="url(#st)">
<rect x="179.7" y="375.3" width="56.0" height="58.8" fill-opacity="0"/>
<rect x="182" y="378" width="51" height="54" fill-opacity="0.03"/>
<ellipse cx="218" cy="390.5" rx="9" ry="2.4" fill-opacity="0.5"/>
<rect x="183" y="397.5" width="23" height="12.5" fill-opacity="0.2"/>
<ellipse cx="218" cy="402" rx="10" ry="3" fill-opacity="0.12"/>
<rect x="183" y="410" width="17" height="5" fill-opacity="0.3"/>
<rect x="183" y="413" width="15" height="18" fill-opacity="0.45"/>
<ellipse cx="188" cy="424" rx="7" ry="8" fill-opacity="0.45"/>
</g></g>
<rect x="182.7" y="378.3" width="50.0" height="52.8" fill="none" stroke="#929292" stroke-width=".9"/>
<line x1="199.2" y1="378.3" x2="199.2" y2="431.1" stroke="#929292" stroke-width=".9"/>
<line x1="182.7" y1="410.3" x2="232.7" y2="410.3" stroke="#929292" stroke-width=".9"/>
<rect x="179.7" y="375.7" width="1" height="1.8" fill="#aaa"/>
<rect x="179.7" y="389.1" width="1" height="1.8" fill="#aaa"/>
<rect x="179.7" y="401.8" width="1" height="1.8" fill="#aaa"/>
<rect x="179.7" y="415.5" width="1" height="1.8" fill="#aaa"/>
<rect x="179.7" y="427.7" width="1" height="1.8" fill="#aaa"/>
<rect x="182.9" y="431.7" width="1.8" height="1" fill="#aaa"/>
<rect x="195.4" y="431.7" width="1.8" height="1" fill="#aaa"/>
<rect x="206.9" y="431.7" width="1.8" height="1" fill="#aaa"/>
<rect x="219.4" y="431.7" width="1.8" height="1" fill="#aaa"/>
<rect x="230.9" y="431.7" width="1.8" height="1" fill="#aaa"/>
<rect x="205.7" y="434.1" width="2.5" height="1.2" fill="#888"/>
<rect x="178.2" y="402.1" width="1.3" height="2.5" fill="#888"/>
<rect x="205.1" y="384.4" width="25.4" height="12.5" fill="none" stroke="#7a7a7a" stroke-width=".9"/>
<rect x="182.7" y="397.4" width="23.9" height="12.8" fill="none" stroke="#7a7a7a" stroke-width=".9"/>
<rect x="206.6" y="396.9" width="23.9" height="10.7" fill="none" stroke="#7a7a7a" stroke-width=".9"/>
<line x1="217.1" y1="416.5" x2="217.1" y2="431.1" stroke="#222" stroke-width=".8"/>
<line x1="199.9" y1="423.0" x2="233.2" y2="423.0" stroke="#222" stroke-width=".8"/>
<text x="230.6" y="422.2" font-size="9.1" text-anchor="end" font-weight="bold" class="n">8.1</text>
<text x="215.3" y="429.8" font-size="9.1" text-anchor="end" font-weight="bold" class="n">2.3</text>
<text x="230.6" y="429.8" font-size="9.1" text-anchor="end" font-weight="bold" class="n">1.9</text>
<clipPath id="c18"><rect x="244.4" y="378.4" width="51.5" height="53.2"/></clipPath>
<g clip-path="url(#c18)"><g filter="url(#st)">
<rect x="241.4" y="375.4" width="57.5" height="59.2" fill-opacity="0"/>
<rect x="244" y="378" width="52" height="54" fill-opacity="0.03"/>
<ellipse cx="279" cy="392" rx="9" ry="3" fill-opacity="0.15"/>
<rect x="244.5" y="399" width="23" height="12" fill-opacity="0.15"/>
<ellipse cx="280" cy="403" rx="9" ry="3" fill-opacity="0.1"/>
<rect x="244.5" y="411" width="16" height="4" fill-opacity="0.3"/>
<rect x="244.5" y="413" width="15" height="18" fill-opacity="0.45"/>
<ellipse cx="249.5" cy="424" rx="7" ry="8" fill-opacity="0.45"/>
</g></g>
<rect x="244.4" y="378.4" width="51.5" height="53.2" fill="none" stroke="#929292" stroke-width=".9"/>
<line x1="260.1" y1="378.4" x2="260.1" y2="431.6" stroke="#929292" stroke-width=".9"/>
<line x1="244.4" y1="408.8" x2="295.9" y2="408.8" stroke="#929292" stroke-width=".9"/>
<rect x="241.4" y="375.7" width="1" height="1.8" fill="#aaa"/>
<rect x="241.4" y="389.3" width="1" height="1.8" fill="#aaa"/>
<rect x="241.4" y="402.1" width="1" height="1.8" fill="#aaa"/>
<rect x="241.4" y="415.9" width="1" height="1.8" fill="#aaa"/>
<rect x="241.4" y="428.1" width="1" height="1.8" fill="#aaa"/>
<rect x="244.6" y="432.2" width="1.8" height="1" fill="#aaa"/>
<rect x="257.5" y="432.2" width="1.8" height="1" fill="#aaa"/>
<rect x="269.3" y="432.2" width="1.8" height="1" fill="#aaa"/>
<rect x="282.2" y="432.2" width="1.8" height="1" fill="#aaa"/>
<rect x="294.1" y="432.2" width="1.8" height="1" fill="#aaa"/>
<rect x="268.1" y="434.6" width="2.5" height="1.2" fill="#888"/>
<rect x="239.9" y="402.3" width="1.3" height="2.5" fill="#888"/>
<rect x="266.5" y="386.0" width="25.3" height="12.6" fill="none" stroke="#7a7a7a" stroke-width=".9"/>
<rect x="244.4" y="398.9" width="23.3" height="11.9" fill="none" stroke="#7a7a7a" stroke-width=".9"/>
<rect x="267.7" y="398.6" width="24.1" height="9.4" fill="none" stroke="#7a7a7a" stroke-width=".9"/>
<line x1="279.9" y1="416.4" x2="279.9" y2="431.6" stroke="#222" stroke-width=".8"/>
<line x1="260.9" y1="423.6" x2="296.4" y2="423.6" stroke="#222" stroke-width=".8"/>
<text x="292.6" y="422.5" font-size="9.1" text-anchor="end" font-weight="bold" class="n">0.1</text>
<text x="278.5" y="430.6" font-size="9.1" text-anchor="end" font-weight="bold" class="n">0.7</text>
<text x="292.6" y="430.6" font-size="9.1" text-anchor="end" font-weight="bold" class="n">0.4</text>
<path d="M32.3 413.7 V440.3 H55.5" fill="none" stroke="#000" stroke-width="1.4"/>
<path d="M32.3 407.7 L28.599999999999998 415.09999999999997 L36.0 415.09999999999997Z" fill="#000"/>
<path d="M61.5 440.3 L53.7 436.8 L53.7 443.8Z" fill="#000"/>
<text x="27.5" y="440.4" font-size="14.4" textLength="31.6" lengthAdjust="spacingAndGlyphs" transform="rotate(-90 27.5 440.4)">B220</text>
<text x="30.8" y="456.2" font-size="14.2" textLength="35.2" lengthAdjust="spacingAndGlyphs">CD43</text>
<path d="M176.6 414.2 V438.9 H202.0" fill="none" stroke="#000" stroke-width="1.4"/>
<path d="M176.6 408.2 L172.9 415.59999999999997 L180.29999999999998 415.59999999999997Z" fill="#000"/>
<path d="M208.0 438.9 L200.2 435.4 L200.2 442.4Z" fill="#000"/>
<text x="174.3" y="439.0" font-size="14.0" textLength="30.6" lengthAdjust="spacingAndGlyphs" transform="rotate(-90 174.3 439.0)">B220</text>
<text x="175.6" y="454.1" font-size="14.0" textLength="21.4" lengthAdjust="spacingAndGlyphs">IgM</text>
<line x1="209.0" y1="29.2" x2="342.5" y2="29.2" stroke="#b8b8b8" stroke-width="1.3"/>
<line x1="206.8" y1="29.2" x2="209.0" y2="29.2" stroke="#000" stroke-width="1"/>
<text x="205.8" y="31.5" font-size="10.5" text-anchor="end">100</text>
<line x1="209.0" y1="81.1" x2="342.5" y2="81.1" stroke="#b8b8b8" stroke-width="1.3"/>
<line x1="206.8" y1="81.1" x2="209.0" y2="81.1" stroke="#000" stroke-width="1"/>
<text x="205.3" y="83.4" font-size="10.5" text-anchor="end">10</text>
<line x1="209.0" y1="132.9" x2="342.5" y2="132.9" stroke="#b8b8b8" stroke-width="1.3"/>
<line x1="206.8" y1="132.9" x2="209.0" y2="132.9" stroke="#000" stroke-width="1"/>
<text x="203.4" y="135.2" font-size="10.5" text-anchor="end">1</text>
<line x1="206.8" y1="184.5" x2="209.0" y2="184.5" stroke="#000" stroke-width="1"/>
<text x="204.2" y="186.8" font-size="10.5" text-anchor="end">0</text>
<line x1="209.0" y1="28.5" x2="209.0" y2="184.5" stroke="#222" stroke-width="1.3"/>
<line x1="208.4" y1="184.5" x2="342.5" y2="184.5" stroke="#222" stroke-width="1.3"/>
<line x1="229.4" y1="184.5" x2="229.4" y2="186.7" stroke="#222" stroke-width="1"/>
<text x="228.9" y="195.3" font-size="8.6" text-anchor="middle">4</text>
<line x1="249.9" y1="184.5" x2="249.9" y2="186.7" stroke="#222" stroke-width="1"/>
<text x="249.4" y="195.3" font-size="8.6" text-anchor="middle">8</text>
<line x1="270.5" y1="184.5" x2="270.5" y2="186.7" stroke="#222" stroke-width="1"/>
<text x="270.0" y="195.3" font-size="8.6" text-anchor="middle">12</text>
<line x1="291.0" y1="184.5" x2="291.0" y2="186.7" stroke="#222" stroke-width="1"/>
<text x="290.5" y="195.3" font-size="8.6" text-anchor="middle">16</text>
<line x1="311.6" y1="184.5" x2="311.6" y2="186.7" stroke="#222" stroke-width="1"/>
<text x="311.1" y="195.3" font-size="8.6" text-anchor="middle">20</text>
<line x1="332.2" y1="184.5" x2="332.2" y2="186.7" stroke="#222" stroke-width="1"/>
<text x="331.7" y="195.3" font-size="8.6" text-anchor="middle">24</text>
<polyline points="229.6,74.5 270.4,97.8 331.6,153.8" fill="none" stroke="#3c3c3c" stroke-width="1.15"/>
<polyline points="229.6,48.8 270.4,53.5 331.8,57.0" fill="none" stroke="#000" stroke-width="1.6"/>
<rect x="227.79999999999998" y="72.7" width="3.6" height="3.6" fill="#fff" stroke="#444" stroke-width=".9"/>
<rect x="268.59999999999997" y="96.0" width="3.6" height="3.6" fill="#fff" stroke="#444" stroke-width=".9"/>
<rect x="329.8" y="152.0" width="3.6" height="3.6" fill="#fff" stroke="#444" stroke-width=".9"/>
<rect x="227.6" y="46.8" width="4" height="4" fill="#000"/>
<rect x="268.4" y="51.5" width="4" height="4" fill="#000"/>
<rect x="329.8" y="55.0" width="4" height="4" fill="#000"/>
<line x1="220.5" y1="156.2" x2="234.6" y2="156.2" stroke="#000" stroke-width="1.5"/>
<rect x="225.55" y="154.2" width="4" height="4" fill="#000"/>
<line x1="220.5" y1="166.5" x2="234.6" y2="166.5" stroke="#666" stroke-width="1.1"/>
<rect x="225.75" y="164.7" width="3.6" height="3.6" fill="#fff" stroke="#555" stroke-width=".9"/>
<text x="236.6" y="160.0" font-size="11.7">XLF+/+</text>
<text x="236.6" y="170.3" font-size="11.7">XLF-/-</text>
<text x="234.4" y="210.5" font-size="14">Age (months)</text>
<text x="184.3" y="186.3" font-size="10.5" transform="rotate(-90 184.3 186.3)">B220+IgM+ B cells in spleen (x10<tspan dy="-1.5" font-size="9.8">6</tspan><tspan dy="1.5">)</tspan></text>
<text x="172.9" y="14.3" font-size="16.8" font-weight="bold" class="L">B</text>
<line x1="381.3" y1="32.7" x2="518" y2="32.7" stroke="#c4c4c4" stroke-width="1.0"/>
<line x1="379.1" y1="32.7" x2="381.3" y2="32.7" stroke="#000" stroke-width="1"/>
<text x="378.3" y="35.0" font-size="10.5" text-anchor="end">10</text>
<line x1="381.3" y1="108.3" x2="518" y2="108.3" stroke="#c4c4c4" stroke-width="1.0"/>
<line x1="379.1" y1="108.3" x2="381.3" y2="108.3" stroke="#000" stroke-width="1"/>
<text x="377.1" y="110.6" font-size="10.5" text-anchor="end">1</text>
<line x1="379.1" y1="184.0" x2="381.3" y2="184.0" stroke="#000" stroke-width="1"/>
<text x="376.6" y="186.3" font-size="10.5" text-anchor="end">0</text>
<line x1="381.3" y1="32.0" x2="381.3" y2="184.3" stroke="#222" stroke-width="1.3"/>
<line x1="380.7" y1="184.3" x2="512.0" y2="184.3" stroke="#222" stroke-width="1.3"/>
<line x1="402.0" y1="184.3" x2="402.0" y2="186.5" stroke="#222" stroke-width="1"/>
<text x="401.5" y="195.1" font-size="8.6" text-anchor="middle">4</text>
<line x1="423.0" y1="184.3" x2="423.0" y2="186.5" stroke="#222" stroke-width="1"/>
<text x="422.5" y="195.1" font-size="8.6" text-anchor="middle">8</text>
<line x1="444.0" y1="184.3" x2="444.0" y2="186.5" stroke="#222" stroke-width="1"/>
<text x="443.5" y="195.1" font-size="8.6" text-anchor="middle">12</text>
<line x1="465.0" y1="184.3" x2="465.0" y2="186.5" stroke="#222" stroke-width="1"/>
<text x="464.5" y="195.1" font-size="8.6" text-anchor="middle">16</text>
<line x1="486.0" y1="184.3" x2="486.0" y2="186.5" stroke="#222" stroke-width="1"/>
<text x="485.5" y="195.1" font-size="8.6" text-anchor="middle">20</text>
<line x1="507.0" y1="184.3" x2="507.0" y2="186.5" stroke="#222" stroke-width="1"/>
<text x="506.5" y="195.1" font-size="8.6" text-anchor="middle">24</text>
<path d="M402.0 58.5 V55.0 M400.4 55.0 H403.6" stroke="#777" stroke-width=".8" fill="none"/>
<path d="M444.1 85.6 V82.1 M442.5 82.1 H445.70000000000005" stroke="#777" stroke-width=".8" fill="none"/>
<path d="M507.0 108.2 V104.7 M505.4 104.7 H508.6" stroke="#777" stroke-width=".8" fill="none"/>
<polyline points="402.0,58.5 444.1,85.6 507.0,108.2" fill="none" stroke="#3c3c3c" stroke-width="1.15"/>
<polyline points="402.0,35.3 444.1,35.9 507.0,37.3" fill="none" stroke="#000" stroke-width="1.6"/>
<rect x="400.2" y="56.7" width="3.6" height="3.6" fill="#fff" stroke="#444" stroke-width=".9"/>
<rect x="442.3" y="83.8" width="3.6" height="3.6" fill="#fff" stroke="#444" stroke-width=".9"/>
<rect x="505.2" y="106.4" width="3.6" height="3.6" fill="#fff" stroke="#444" stroke-width=".9"/>
<rect x="400.0" y="33.3" width="4" height="4" fill="#000"/>
<rect x="442.1" y="33.9" width="4" height="4" fill="#000"/>
<rect x="505.0" y="35.3" width="4" height="4" fill="#000"/>
<line x1="410.3" y1="157.0" x2="424.8" y2="157.0" stroke="#000" stroke-width="1.5"/>
<rect x="415.55" y="155.0" width="4" height="4" fill="#000"/>
<line x1="410.3" y1="167.6" x2="424.8" y2="167.6" stroke="#666" stroke-width="1.1"/>
<rect x="415.75" y="165.79999999999998" width="3.6" height="3.6" fill="#fff" stroke="#555" stroke-width=".9"/>
<text x="425.0" y="160.8" font-size="11.7">XLF+/+</text>
<text x="425.0" y="171.4" font-size="11.7">XLF-/-</text>
<text x="408.4" y="211.0" font-size="14">Age (months)</text>
<text x="363.8" y="175.3" font-size="10.72" transform="rotate(-90 363.8 175.3)">CD4+ T cells in spleen (x10<tspan dy="-1.5" font-size="9.8">6</tspan><tspan dy="1.5">)</tspan></text>
<text x="354.2" y="14.6" font-size="16.8" font-weight="bold" class="L">C</text>
<line x1="372.0" y1="260.3" x2="513" y2="260.3" stroke="#b8b8b8" stroke-width="1.3"/>
<line x1="369.8" y1="260.3" x2="372.0" y2="260.3" stroke="#000" stroke-width="1"/>
<text x="368.4" y="262.6" font-size="10.5" text-anchor="end">100</text>
<line x1="372.0" y1="314.3" x2="513" y2="314.3" stroke="#b8b8b8" stroke-width="1.3"/>
<line x1="369.8" y1="314.3" x2="372.0" y2="314.3" stroke="#000" stroke-width="1"/>
<text x="367.4" y="316.6" font-size="10.5" text-anchor="end">10</text>
<line x1="372.0" y1="368.2" x2="513" y2="368.2" stroke="#b8b8b8" stroke-width="1.3"/>
<line x1="369.8" y1="368.2" x2="372.0" y2="368.2" stroke="#000" stroke-width="1"/>
<text x="367.2" y="370.5" font-size="10.5" text-anchor="end">1</text>
<line x1="369.8" y1="422.1" x2="372.0" y2="422.1" stroke="#000" stroke-width="1"/>
<text x="365.8" y="424.4" font-size="10.5" text-anchor="end">0</text>
<line x1="372.0" y1="259.6" x2="372.0" y2="422.1" stroke="#222" stroke-width="1.3"/>
<line x1="371.4" y1="422.1" x2="512.0" y2="422.1" stroke="#222" stroke-width="1.3"/>
<line x1="393.7" y1="422.1" x2="393.7" y2="424.3" stroke="#222" stroke-width="1"/>
<text x="393.2" y="432.9" font-size="8.6" text-anchor="middle">4</text>
<line x1="415.4" y1="422.1" x2="415.4" y2="424.3" stroke="#222" stroke-width="1"/>
<text x="414.9" y="432.9" font-size="8.6" text-anchor="middle">8</text>
<line x1="437.0" y1="422.1" x2="437.0" y2="424.3" stroke="#222" stroke-width="1"/>
<text x="436.5" y="432.9" font-size="8.6" text-anchor="middle">12</text>
<line x1="458.7" y1="422.1" x2="458.7" y2="424.3" stroke="#222" stroke-width="1"/>
<text x="458.2" y="432.9" font-size="8.6" text-anchor="middle">16</text>
<line x1="480.4" y1="422.1" x2="480.4" y2="424.3" stroke="#222" stroke-width="1"/>
<text x="479.9" y="432.9" font-size="8.6" text-anchor="middle">20</text>
<line x1="502.1" y1="422.1" x2="502.1" y2="424.3" stroke="#222" stroke-width="1"/>
<text x="501.6" y="432.9" font-size="8.6" text-anchor="middle">24</text>
<path d="M393.5 289.1 V285.1 M391.9 285.1 H395.1" stroke="#777" stroke-width=".8" fill="none"/>
<path d="M393.5 302.8 V298.8 M391.9 298.8 H395.1" stroke="#777" stroke-width=".8" fill="none"/>
<path d="M436.9 325.6 V322.1 M435.29999999999995 322.1 H438.5" stroke="#777" stroke-width=".8" fill="none"/>
<path d="M502.0 365.3 V361.8 M500.4 361.8 H503.6" stroke="#777" stroke-width=".8" fill="none"/>
<polyline points="393.5,302.8 436.9,325.6 502.0,365.3" fill="none" stroke="#3c3c3c" stroke-width="1.15"/>
<polyline points="393.5,289.1 436.9,294.6 502.0,307.3" fill="none" stroke="#000" stroke-width="1.6"/>
<rect x="391.7" y="301.0" width="3.6" height="3.6" fill="#fff" stroke="#444" stroke-width=".9"/>
<rect x="435.09999999999997" y="323.8" width="3.6" height="3.6" fill="#fff" stroke="#444" stroke-width=".9"/>
<rect x="500.2" y="363.5" width="3.6" height="3.6" fill="#fff" stroke="#444" stroke-width=".9"/>
<rect x="391.5" y="287.1" width="4" height="4" fill="#000"/>
<rect x="434.9" y="292.6" width="4" height="4" fill="#000"/>
<rect x="500.0" y="305.3" width="4" height="4" fill="#000"/>
<line x1="384.0" y1="395.3" x2="398.8" y2="395.3" stroke="#000" stroke-width="1.5"/>
<rect x="389.4" y="393.3" width="4" height="4" fill="#000"/>
<line x1="384.0" y1="404.6" x2="398.8" y2="404.6" stroke="#666" stroke-width="1.1"/>
<rect x="389.59999999999997" y="402.8" width="3.6" height="3.6" fill="#fff" stroke="#555" stroke-width=".9"/>
<text x="399.6" y="399.1" font-size="11.7">XLF+/+</text>
<text x="399.6" y="408.4" font-size="11.7">XLF-/-</text>
<text x="398.8" y="446.6" font-size="14">Age (months)</text>
<text x="349.6" y="418.6" font-size="10.66" transform="rotate(-90 349.6 418.6)">B220+ cells in bone marrow (%)</text>
<text x="331.4" y="255.9" font-size="17.4" font-weight="bold" class="L">E</text>
</g>
</svg></body></html>
